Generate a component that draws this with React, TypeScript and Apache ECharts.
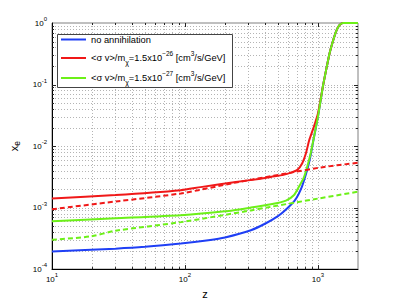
import React, { useEffect, useRef } from 'react';
import * as echarts from 'echarts';

const X_MIN = 10;
const X_MAX = 2000;
const Y_MIN = 1e-4;
const Y_MAX = 1;

// shared high-z tail (all curves merge)
const tailZ = [1089, 1150, 1222, 1300, 1372, 1450, 1540, 2000];
const tailXe = [0.093, 0.17, 0.32, 0.52, 0.74, 0.92, 1.0, 1.0];

const blueZ = [10, 30, 50, 93, 150, 200, 313, 406, 500, 556, 670, 758, 835, 880, 920, 1000];
const blueXe = [1.93e-4, 2.15e-4, 2.3e-4, 2.6e-4, 2.95e-4, 3.27e-4, 4.28e-4, 5.56e-4, 7.28e-4, 8.7e-4, 1.31e-3, 2.2e-3, 4.3e-3, 7.0e-3, 1.18e-2, 3.0e-2];

const redZ = [10, 30, 93, 131, 241, 372, 443, 550, 628, 700, 760, 810, 860, 920, 1000];
const redXe = [1.41e-3, 1.6e-3, 1.92e-3, 2.15e-3, 2.6e-3, 2.95e-3, 3.15e-3, 3.4e-3, 3.7e-3, 4.1e-3, 5.2e-3, 7.5e-3, 1.25e-2, 1.9e-2, 3.4e-2];

const greenZ = [10, 30, 93, 200, 313, 443, 575, 661, 720, 780, 830, 880, 920, 1000];
const greenXe = [6.0e-4, 6.7e-4, 7.5e-4, 8.7e-4, 1.0e-3, 1.13e-3, 1.3e-3, 1.6e-3, 2.2e-3, 3.0e-3, 4.6e-3, 7.5e-3, 1.2e-2, 3.0e-2];

const redDashZ = [10, 31.5, 93, 241, 628, 1057, 2000];
const redDashXe = [9.4e-4, 1.27e-3, 1.7e-3, 2.55e-3, 3.7e-3, 4.5e-3, 5.35e-3];

const greenDashZ = [10, 19.4, 30, 93, 313, 443, 1000, 2000];
const greenDashXe = [3.0e-4, 3.4e-4, 4.2e-4, 5.8e-4, 9.0e-4, 1.03e-3, 1.4e-3, 1.81e-3];

const xDecades = [10, 100, 1000];
const yDecades = [1e-4, 1e-3, 1e-2, 1e-1];
const minorMultipliers = [1, 2, 3, 4, 5, 6, 7, 8, 9];

const SERIES_NAMES = ['no annihilation', 'sv26', 'sv27'];

const FONT = 'Liberation Sans, Arial, Helvetica, sans-serif';

const pairs = (z: number[], v: number[]) => z.map((zz, i) => [zz, v[i]]);

export default function App() {
  const ref = useRef<HTMLDivElement>(null);
  useEffect(() => {
    document.body.style.margin = '0';
    if (!ref.current) return;
    const chart = echarts.init(ref.current, undefined, { renderer: 'svg' });

    const gridItems: number[][] = [];
    xDecades.forEach((d) => {
      minorMultipliers.forEach((m) => {
        const v = d * m;
        if (v > X_MIN && v < X_MAX) gridItems.push([v, Y_MIN, 0, m === 1 ? 1 : 0]);
      });
    });
    yDecades.forEach((d) => {
      minorMultipliers.forEach((m) => {
        const v = d * m;
        if (v > Y_MIN && v < Y_MAX) gridItems.push([X_MIN, v, 1, m === 1 ? 1 : 0]);
      });
    });

    const labelFmt = (v: number) => {
      const l = Math.log10(v);
      const e = Math.round(l);
      if (Math.abs(l - e) > 1e-6) return '';
      return `{b|10}{s|${e < 0 ? '-' + Math.abs(e) : e}}`;
    };
    const labelRich = {
      b: { fontSize: 8, lineHeight: 14, fontFamily: FONT, color: '#000' },
      s: { fontSize: 6, lineHeight: 6, verticalAlign: 'top', fontFamily: FONT, color: '#000' },
    };

    const legendRich = {
      t: { fontSize: 9.3, lineHeight: 16, fontFamily: FONT, color: '#000' },
      sup: { fontSize: 6.5, lineHeight: 7, verticalAlign: 'top', fontFamily: FONT, color: '#000' },
      sub: { fontSize: 7, lineHeight: 6, verticalAlign: 'bottom', fontFamily: FONT, color: '#000' },
    };
    const legendFmt = (name: string) => {
      if (name === 'sv26')
        return '{t|<σ v>/m}{sub|χ}{t|=1.5x10}{sup|−26}{t| [cm}{sup|3}{t|/s/GeV]}';
      if (name === 'sv27')
        return '{t|<σ v>/m}{sub|χ}{t|=1.5x10}{sup|−27}{t| [cm}{sup|3}{t|/s/GeV]}';
      return '{t|' + name + '}';
    };
    const legendTops = [35, 50, 70];
    const legends = SERIES_NAMES.map((n, i) => ({
      data: [n],
      left: 61,
      top: legendTops[i],
      orient: 'vertical',
      padding: 0,
      itemWidth: 25,
      itemHeight: 2,
      icon: 'rect',
      z: 10,
      selectedMode: false,
      formatter: legendFmt,
      textStyle: { rich: legendRich },
    }));

    const BLUE = '#1f3ff5';
    const RED = '#f01818';
    const GREEN = '#6cf018';

    const option: any = {
      animation: false,
      grid: {
        left: 52,
        top: 23,
        right: 37,
        bottom: 34,
        show: true,
        borderColor: '#808080',
        borderWidth: 1,
        backgroundColor: '#fff',
      },
      legend: legends,
      graphic: [
        {
          type: 'rect',
          z: 5,
          shape: { x: 57.5, y: 34.5, width: 175, height: 53 },
          style: { fill: '#fff', stroke: '#444', lineWidth: 1 },
        },
      ],
      xAxis: {
        type: 'log',
        logBase: 10,
        min: X_MIN,
        max: X_MAX,
        axisLine: { show: true, lineStyle: { color: '#000', width: 1 } },
        axisTick: { show: false },
        splitLine: { show: false },
        axisLabel: { formatter: labelFmt, rich: labelRich, margin: 3 },
        name: 'z',
        nameLocation: 'middle',
        nameGap: 14,
        nameTextStyle: { fontSize: 11, fontFamily: FONT, color: '#000' },
      },
      yAxis: {
        type: 'log',
        logBase: 10,
        min: Y_MIN,
        max: Y_MAX,
        axisLine: { show: true, lineStyle: { color: '#000', width: 1 } },
        axisTick: { show: false },
        splitLine: { show: false },
        axisLabel: { formatter: labelFmt, rich: labelRich, margin: 5 },
        name: '{x|x}{e|e}',
        nameLocation: 'middle',
        nameRotate: 90,
        nameGap: 24,
        nameTextStyle: {
          rich: {
            x: { fontSize: 11, lineHeight: 16, fontFamily: FONT, color: '#000' },
            e: { fontSize: 8.5, lineHeight: 7, verticalAlign: 'bottom', fontFamily: FONT, color: '#000' },
          },
        },
      },
      series: [
        {
          type: 'custom',
          name: 'grid',
          silent: true,
          z: 1,
          clip: false,
          encode: { x: 0, y: 1 },
          data: gridItems,
          renderItem: (params: any, api: any) => {
            const cs = params.coordSys;
            const kind = api.value(2);
            const L = api.value(3) ? 4 : 2;
            const left = cs.x;
            const right = cs.x + cs.width;
            const top = cs.y;
            const bot = cs.y + cs.height;
            if (kind === 0) {
              const p = api.coord([api.value(0), Y_MIN]);
              const px = Math.round(p[0]) + 0.5;
              return {
                type: 'group',
                children: [
                  { type: 'line', shape: { x1: px, y1: top, x2: px, y2: bot }, style: { stroke: '#b4b4b4', lineWidth: 1, lineDash: [1, 2] } },
                  { type: 'line', shape: { x1: px, y1: bot, x2: px, y2: bot - L }, style: { stroke: '#222', lineWidth: 1 } },
                  { type: 'line', shape: { x1: px, y1: top, x2: px, y2: top + L }, style: { stroke: '#222', lineWidth: 1 } },
                ],
              };
            }
            const p = api.coord([X_MIN, api.value(1)]);
            const py = Math.round(p[1]) + 0.5;
            return {
              type: 'group',
              children: [
                { type: 'line', shape: { x1: left, y1: py, x2: right, y2: py }, style: { stroke: '#b4b4b4', lineWidth: 1, lineDash: [1, 2] } },
                { type: 'line', shape: { x1: left, y1: py, x2: left + L, y2: py }, style: { stroke: '#222', lineWidth: 1 } },
                { type: 'line', shape: { x1: right, y1: py, x2: right - L, y2: py }, style: { stroke: '#222', lineWidth: 1 } },
              ],
            };
          },
        },
        {
          type: 'line',
          name: 'no annihilation',
          data: pairs(blueZ.concat(tailZ), blueXe.concat(tailXe)),
          showSymbol: false,
          symbol: 'none',
          smooth: 0.2,
          color: BLUE,
          lineStyle: { color: BLUE, width: 2 },
        },
        {
          type: 'line',
          name: 'sv26',
          data: pairs(redZ.concat(tailZ), redXe.concat(tailXe)),
          showSymbol: false,
          symbol: 'none',
          smooth: 0.2,
          color: RED,
          lineStyle: { color: RED, width: 2 },
        },
        {
          type: 'line',
          name: 'sv27',
          data: pairs(greenZ.concat(tailZ), greenXe.concat(tailXe)),
          showSymbol: false,
          symbol: 'none',
          smooth: 0.2,
          color: GREEN,
          lineStyle: { color: GREEN, width: 2 },
        },
        {
          type: 'line',
          name: 'sv26 approx',
          data: pairs(redDashZ, redDashXe),
          showSymbol: false,
          symbol: 'none',
          smooth: 0.3,
          color: RED,
          lineStyle: { color: RED, width: 2, type: [5, 3] },
        },
        {
          type: 'line',
          name: 'sv27 approx',
          data: pairs(greenDashZ, greenDashXe),
          showSymbol: false,
          symbol: 'none',
          smooth: 0.3,
          color: GREEN,
          lineStyle: { color: GREEN, width: 2, type: [5, 3] },
        },
      ],
    };
    chart.setOption(option);
    return () => chart.dispose();
  }, []);
  return <div ref={ref} style={{ width: 395, height: 304 }} />;
}
